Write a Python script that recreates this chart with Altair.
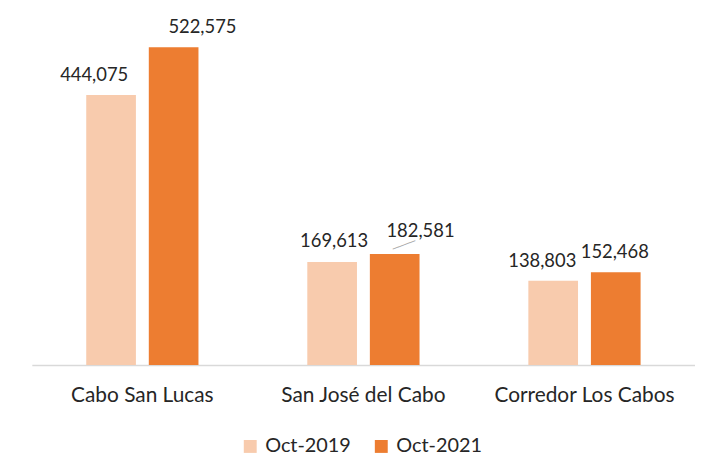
import altair as alt
import pandas as pd

categories = ["Cabo San Lucas", "San José del Cabo", "Corredor Los Cabos"]
series = ["Oct-2019", "Oct-2021"]
oct_2019 = [444075, 169613, 138803]
oct_2021 = [522575, 182581, 152468]

colors = ["#F8CBAD", "#ED7D31"]
FONT = "Lato"
TEXT = "#262626"

rows = []
for i, c in enumerate(categories):
    rows.append({"cat": c, "series": series[0], "value": oct_2019[i]})
    rows.append({"cat": c, "series": series[1], "value": oct_2021[i]})
df = pd.DataFrame(rows)

# label nudges (dx, dy) in pixels, one per bar in row order
label_nudge = [(-17, -14), (29, -14), (2, -15), (26, -17), (-11, -14), (-1, -14)]

x_enc = alt.X("cat:N", sort=categories, title=None,
              scale=alt.Scale(paddingInner=0.434, paddingOuter=0.217),
              axis=alt.Axis(labelAngle=0, ticks=False, domainColor="#D9D9D9",
                            domainWidth=1.5, labelFont=FONT, labelFontSize=21,
                            labelColor=TEXT, labelPadding=20, grid=False,
                            labelLimit=400))
xo_enc = alt.XOffset("series:N", sort=series,
                     scale=alt.Scale(paddingInner=0.206, paddingOuter=0.103))
y_enc = alt.Y("value:Q", title=None, axis=None,
              scale=alt.Scale(domain=[0, 584600], nice=False))

base = alt.Chart(df)

bars = base.mark_bar().encode(
    x=x_enc, xOffset=xo_enc, y=y_enc,
    color=alt.Color("series:N", sort=series,
                    scale=alt.Scale(domain=series, range=colors),
                    legend=alt.Legend(title=None, orient="none", direction="horizontal",
                                      legendX=210, legendY=430, symbolType="square",
                                      symbolSize=169, symbolStrokeWidth=0,
                                      labelFont=FONT, labelFontSize=20, labelColor=TEXT,
                                      labelOffset=5, columnPadding=20)),
)

layers = [bars]
for idx, row in df.iterrows():
    dx, dy = label_nudge[idx]
    t = base.transform_filter(
        (alt.datum.cat == row["cat"]) & (alt.datum.series == row["series"])
    ).mark_text(font=FONT, fontSize=18.5, color=TEXT, dx=dx, dy=dy,
                baseline="alphabetic").encode(
        x=alt.X("cat:N", sort=categories), xOffset=alt.XOffset("series:N", sort=series),
        y="value:Q", text=alt.Text("value:Q", format=","))
    layers.append(t)

# leader line for the San José del Cabo Oct-2021 label
leader = base.transform_filter(
    (alt.datum.cat == categories[1]) & (alt.datum.series == series[1])
).mark_text(text="────", font="DejaVu Sans", fontSize=10, color="#A6A6A6",
            angle=340, dx=12, dy=-5).encode(
    x=alt.X("cat:N", sort=categories), xOffset=alt.XOffset("series:N", sort=series),
    y="value:Q")
layers.append(leader)

chart = alt.layer(*layers).properties(width=668, height=358).configure(
    padding={"left": 24, "top": 0, "right": 0, "bottom": 0}, background="white"
).configure_view(strokeWidth=0)

chart.save("out.html", embed_options={"renderer": "svg", "actions": False})
